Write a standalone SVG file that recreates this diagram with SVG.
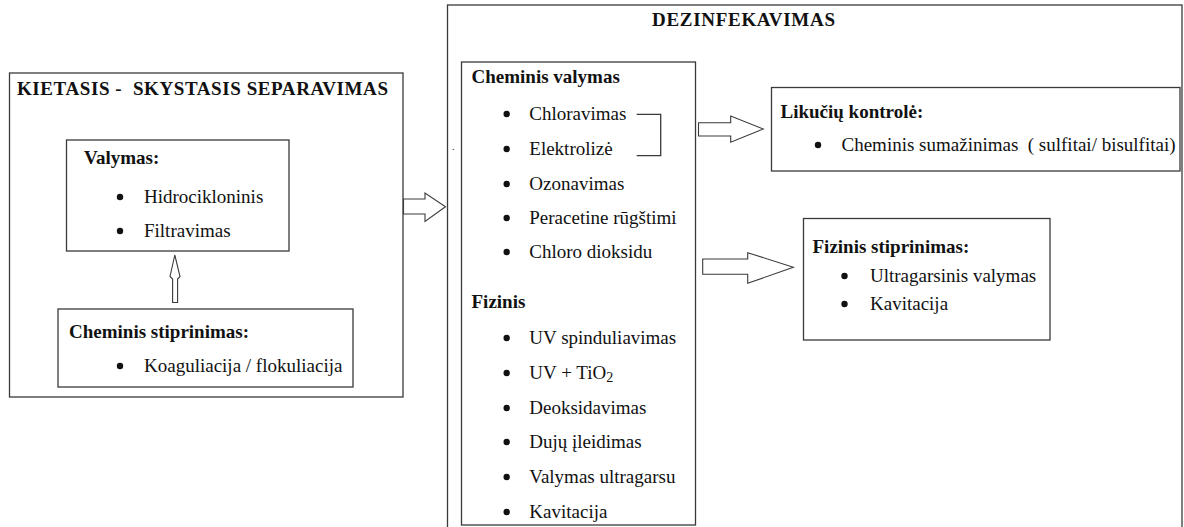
<svg xmlns="http://www.w3.org/2000/svg" width="1184" height="527" viewBox="0 0 1184 527">
<style>
.box{fill:#fff;stroke:#3a3a3a;stroke-width:1.3}
.arr{fill:#fff;stroke:#3a3a3a;stroke-width:1.1;stroke-linejoin:miter}
text{font-family:"Liberation Serif","Times New Roman",serif;font-size:19px;fill:#111;white-space:pre}
.b{font-weight:bold}
.dot{fill:#111}
</style>
<rect width="1184" height="527" fill="#fff"/>
<g id="separavimas">
<rect class="box" x="9.5" y="73" width="393.5" height="324"/>
<text class="b" x="17" y="95" textLength="371" lengthAdjust="spacing">KIETASIS -  SKYSTASIS SEPARAVIMAS</text>
</g>
<g id="valymas">
<rect class="box" x="66.5" y="140" width="222.5" height="111"/>
<text class="b" x="84" y="164">Valymas:</text>
<circle class="dot" cx="120" cy="197" r="3.2"/>
<text x="144" y="203">Hidrocikloninis</text>
<circle class="dot" cx="120" cy="231" r="3.2"/>
<text x="144" y="237">Filtravimas</text>
</g>
<g id="cheminis-stiprinimas">
<rect class="box" x="58" y="309" width="295" height="78"/>
<text class="b" x="69" y="338">Cheminis stiprinimas:</text>
<circle class="dot" cx="120" cy="366" r="3.2"/>
<text x="144" y="372">Koaguliacija / flokuliacija</text>
</g>
<g id="dezinfekavimas">
<rect class="box" x="447.5" y="5" width="734.5" height="540"/>
<text class="b" x="652" y="26" textLength="183" lengthAdjust="spacing">DEZINFEKAVIMAS</text>
<text x="452" y="150" style="font-size:10px">.</text>
</g>
<g id="cheminis-valymas">
<rect class="box" x="461.5" y="62" width="234" height="463"/>
<text class="b" x="471.5" y="83">Cheminis valymas</text>
<circle class="dot" cx="506.7" cy="114" r="3.2"/>
<text x="529.3" y="120">Chloravimas</text>
<circle class="dot" cx="506.7" cy="149" r="3.2"/>
<text x="529.3" y="155">Elektrolizė</text>
<circle class="dot" cx="506.7" cy="184" r="3.2"/>
<text x="529.3" y="190">Ozonavimas</text>
<circle class="dot" cx="506.7" cy="218" r="3.2"/>
<text x="529.3" y="224">Peracetine rūgštimi</text>
<circle class="dot" cx="506.7" cy="252" r="3.2"/>
<text x="529.3" y="258">Chloro dioksidu</text>
<text class="b" x="471.5" y="308">Fizinis</text>
<circle class="dot" cx="506.7" cy="338" r="3.2"/>
<text x="529.3" y="344">UV spinduliavimas</text>
<circle class="dot" cx="506.7" cy="373" r="3.2"/>
<text x="529.3" y="379">UV + TiO<tspan style="font-size:14px" dy="3">2</tspan></text>
<circle class="dot" cx="506.7" cy="408" r="3.2"/>
<text x="529.3" y="414">Deoksidavimas</text>
<circle class="dot" cx="506.7" cy="442" r="3.2"/>
<text x="529.3" y="448">Dujų įleidimas</text>
<circle class="dot" cx="506.7" cy="477" r="3.2"/>
<text x="529.3" y="483">Valymas ultragarsu</text>
<circle class="dot" cx="506.7" cy="512" r="3.2"/>
<text x="529.3" y="518">Kavitacija</text>
</g>
<g id="likuciu-kontrole">
<rect class="box" x="771.5" y="87.5" width="408.5" height="83.5"/>
<text class="b" x="780.5" y="117.5">Likučių kontrolė:</text>
<circle class="dot" cx="818" cy="145" r="3.2"/>
<text x="841.5" y="150.5">Cheminis sumažinimas  ( sulfitai/ bisulfitai)</text>
</g>
<g id="fizinis-stiprinimas">
<rect class="box" x="803.5" y="218.5" width="246.5" height="121.5"/>
<text class="b" x="812.5" y="253">Fizinis stiprinimas:</text>
<circle class="dot" cx="844.5" cy="276" r="3.2"/>
<text x="870" y="281.5">Ultragarsinis valymas</text>
<circle class="dot" cx="844.5" cy="304" r="3.2"/>
<text x="870" y="310">Kavitacija</text>
</g>
<g id="connectors">
<polygon class="arr" points="174.8,255 180,276.5 177.6,279 177.6,302.5 172.6,302.5 172.6,279 170,276.5"/>
<polygon class="arr" points="403.5,199 425,199 425,193 445.5,206.7 425,221.5 425,214 403.5,214"/>
<polygon class="arr" points="698.5,122.7 730.7,122.7 730.7,116 763.3,129 730.7,142.3 730.7,136 698.5,136"/>
<polygon class="arr" points="702.7,259 747.7,259 747.7,252.7 793.3,267.3 747.7,283.3 747.7,274.3 702.7,274.3"/>
<polyline fill="none" stroke="#3a3a3a" stroke-width="1.3" points="636.7,114.3 660.7,114.3 660.7,155.7 636.7,155.7"/>
</g>
</svg>
